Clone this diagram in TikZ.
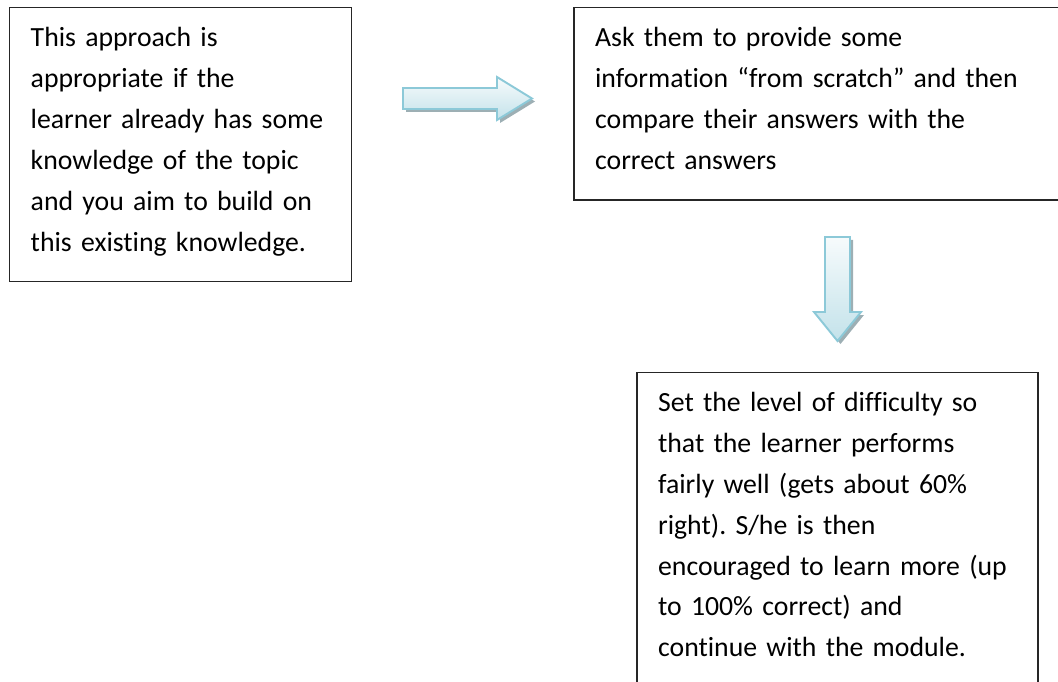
\documentclass[tikz,border=0pt]{standalone}
\usepackage{fontspec}
\setmainfont{Carlito}[Ligatures=NoCommon]
\usepackage{tikz}
\usetikzlibrary{positioning}
\definecolor{aline}{HTML}{8CC9D8}
\definecolor{atop}{HTML}{F7FBFC}
\definecolor{abot}{HTML}{C3E2EA}
\definecolor{ashade}{HTML}{9DAFB4}
\frenchspacing

\begin{document}
\begin{tikzpicture}[
  x=0.02cm, y=-0.02cm,
  box/.style={draw=black!85, line width=0.85pt, anchor=north west, align=left,
    font=\fontsize{15.8pt}{23.3pt}\selectfont, inner xsep=4.2mm, inner ysep=3.6mm,
    text height=4.2mm},
  blockarr/.style={draw=aline, line width=1.1pt, top color=atop, bottom color=abot},
  blockshade/.style={fill=ashade, shift={(3,3)}},
]
\clip (0,0) rectangle (1058,682);
\node[box, text width=60mm] (approach) at (9,7) {This approach is\\appropriate if the\\learner already has some\\knowledge of the topic\\and you aim to build on\\this existing knowledge.\strut};
\node[box, text width=94mm, right=44.2mm of approach.north east, anchor=north west] (ask) {Ask them to provide some\\information “from scratch” and then\\compare their answers with the\\correct answers\strut};
\node[box, text width=71.8mm, below=34.2mm of ask.south west, anchor=north west, xshift=12.6mm] (level) {Set the level of difficulty so\\that the learner performs\\fairly well (gets about 60\%\\right). S/he is then\\encouraged to learn more (up\\to 100\% correct) and\\continue with the module.\strut};
% block arrows
\fill[blockshade] (403,88) -- (497,88) -- (497,77) -- (532,98.5) -- (497,120) -- (497,109) -- (403,109) -- cycle;
\draw[blockarr] (403,88) -- (497,88) -- (497,77) -- (532,98.5) -- (497,120) -- (497,109) -- (403,109) -- cycle;
\fill[blockshade] (825,237) -- (850,237) -- (850,312) -- (861,312) -- (837.5,341) -- (814,312) -- (825,312) -- cycle;
\draw[blockarr] (825,237) -- (850,237) -- (850,312) -- (861,312) -- (837.5,341) -- (814,312) -- (825,312) -- cycle;
\end{tikzpicture}
\end{document}
